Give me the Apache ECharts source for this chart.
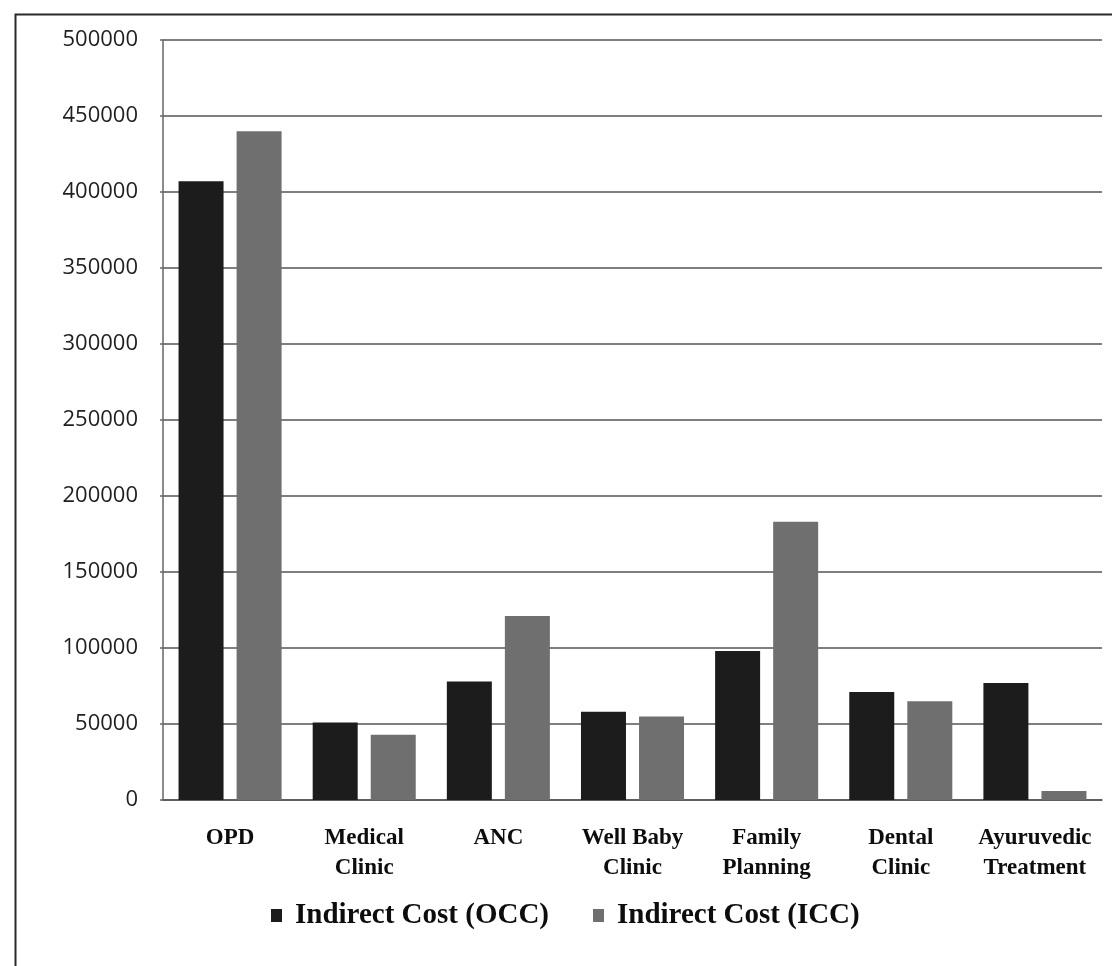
<!DOCTYPE html>
<html>
<head>
<meta charset="utf-8">
<script src="https://cdn.jsdelivr.net/npm/echarts@6/dist/echarts.min.js"></script>
<style>
  html, body { margin: 0; padding: 0; background: #ffffff; }
  #chart { width: 1112px; height: 966px; }
</style>
</head>
<body>
<div id="chart"></div>
<script>
// Clinic units along the x axis
const categories = [
  'OPD',
  'Medical\nClinic',
  'ANC',
  'Well Baby\nClinic',
  'Family\nPlanning',
  'Dental\nClinic',
  'Ayuruvedic\nTreatment'
];

// Indirect cost per unit
const occValues = [407000, 51000, 78000, 58000, 98000, 71000, 77000];
const iccValues = [440000, 43000, 121000, 55000, 183000, 65000, 6000];

const seriesNames = ['Indirect Cost (OCC)', 'Indirect Cost (ICC)'];

// Value axis range
const yMin = 0;
const yMax = 500000;
const yStep = 50000;

const chart = echarts.init(document.getElementById('chart'), null, { renderer: 'canvas' });

const serif = '"Liberation Serif", "Times New Roman", serif';

chart.setOption({
  backgroundColor: '#ffffff',
  animation: false,
  graphic: [
    {
      // outer frame around the chart
      type: 'rect',
      left: 13,
      top: 12,
      shape: { width: 1130, height: 990 },
      style: { fill: 'none', stroke: '#2a2a2a', lineWidth: 2 },
      z: 0
    }
  ],
  grid: {
    left: 163,
    right: 10,
    top: 40,
    bottom: 166,
    containLabel: false
  },
  legend: {
    data: seriesNames,
    left: 266,
    top: 896,
    icon: 'rect',
    itemWidth: 11,
    itemHeight: 13,
    itemGap: 44,
    textStyle: {
      fontFamily: serif,
      fontWeight: 'bold',
      fontSize: 29,
      color: '#0d0d0d',
      padding: [0, 0, 0, 8]
    }
  },
  xAxis: {
    type: 'category',
    data: categories,
    axisLine: { show: true, lineStyle: { color: '#555555', width: 1.5 } },
    axisTick: { show: false },
    axisLabel: {
      interval: 0,
      margin: 23,
      fontFamily: serif,
      fontWeight: 'bold',
      fontSize: 23,
      lineHeight: 30,
      color: '#0d0d0d'
    }
  },
  yAxis: {
    type: 'value',
    min: yMin,
    max: yMax,
    interval: yStep,
    axisLine: { show: true, lineStyle: { color: '#666666', width: 1.5 } },
    axisTick: { show: true, length: 3, lineStyle: { color: '#666666', width: 1.5 } },
    splitLine: { show: true, lineStyle: { color: '#555555', width: 1.5 } },
    axisLabel: {
      margin: 25,
      fontFamily: '"Open Sans", "DejaVu Sans", sans-serif',
      fontSize: 22,
      color: '#1f1f1f',
      formatter: (v) => String(v)
    }
  },
  series: [
    {
      name: seriesNames[0],
      type: 'bar',
      data: occValues,
      barWidth: 45,
      barGap: '29%',
      itemStyle: { color: '#1c1c1c' }
    },
    {
      name: seriesNames[1],
      type: 'bar',
      data: iccValues,
      barWidth: 45,
      itemStyle: { color: '#6f6f6f' }
    }
  ]
});
</script>
</body>
</html>
